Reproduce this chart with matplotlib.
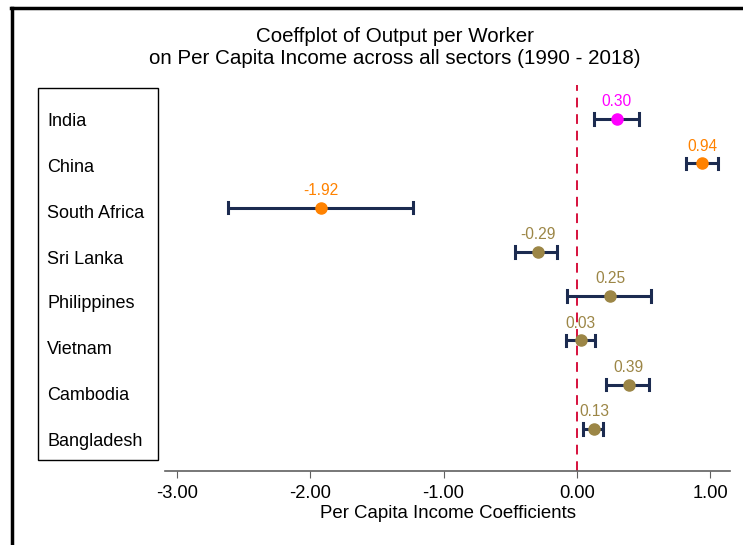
import matplotlib
matplotlib.use("Agg")
import matplotlib.pyplot as plt
from matplotlib.lines import Line2D
from matplotlib.patches import Rectangle

plt.rcParams["font.family"] = ["Liberation Sans", "DejaVu Sans"]

# ── data ──────────────────────────────────────────────────────────────────────
countries = ["India", "China", "South Africa", "Sri Lanka",
             "Philippines", "Vietnam", "Cambodia", "Bangladesh"]
coef  = [0.30, 0.94, -1.92, -0.29, 0.25, 0.03, 0.39, 0.13]
ci_lo = [0.13, 0.82, -2.62, -0.46, -0.07, -0.08, 0.22, 0.05]
ci_hi = [0.47, 1.06, -1.23, -0.15, 0.56, 0.14, 0.54, 0.20]
labels = ["0.30", "0.94", "-1.92", "-0.29", "0.25", "0.03", "0.39", "0.13"]
xticks = [-3, -2, -1, 0, 1]

# ── colours ───────────────────────────────────────────────────────────────────
C_MAG  = "#FF00FF"
C_ORG  = "#FF8200"
C_SAND = "#9C8646"
C_BAR  = "#1C2B50"
C_ZERO = "#D6103C"
point_colors = [C_MAG, C_ORG, C_ORG, C_SAND, C_SAND, C_SAND, C_SAND, C_SAND]

fig = plt.figure(figsize=(7.43, 5.45), dpi=100)
W, H = 743, 545

# plot area in pixel coords: x 165..730, y 85..471
ax = fig.add_axes([165 / W, 1 - 471 / H, (730 - 165) / W, (471 - 85) / H])
ax.set_xlim(-3.09, 1.15)
n = len(countries)
ax.set_ylim(n - 1 + 0.948, -0.768)

ys = list(range(n))
for y, c, lo, hi, col, lab in zip(ys, coef, ci_lo, ci_hi, point_colors, labels):
    ax.plot([lo, hi], [y, y], color=C_BAR, lw=2.2, zorder=2, solid_capstyle="butt")
    ax.plot([lo, lo], [y - 0.13, y + 0.13], color=C_BAR, lw=2.2, zorder=2)
    ax.plot([hi, hi], [y - 0.13, y + 0.13], color=C_BAR, lw=2.2, zorder=2)
    ax.plot(c, y, "o", ms=8, color=col, zorder=3)
    ax.text(c, y - 0.22, lab, color=col, ha="center", va="bottom", fontsize=11.2)

ax.axvline(0, color=C_ZERO, lw=1.4, ls=(0, (5, 3.5)), zorder=1)

for s in ["top", "right", "left"]:
    ax.spines[s].set_visible(False)
ax.spines["bottom"].set_color("#606060")
ax.spines["bottom"].set_linewidth(1.2)
ax.set_yticks([])
ax.set_xticks(xticks)
ax.set_xticklabels([f"{t:.2f}" for t in xticks], fontsize=13.2)
ax.tick_params(axis="x", length=5, color="#606060", pad=5)
ax.set_xlabel("Per Capita Income Coefficients", fontsize=13.4, labelpad=2)

# title
fig.text(395 / W, 1 - 37 / H, "Coeffplot of Output per Worker",
         ha="center", va="center", fontsize=14.8)
fig.text(395 / W, 1 - 58 / H, "on Per Capita Income across all sectors (1990 - 2018)",
         ha="center", va="center", fontsize=14.8)

# legend-like box with country names
fig.patches.append(Rectangle((38 / W, 1 - 460 / H), 120 / W, 372 / H,
                             transform=fig.transFigure, fill=False,
                             edgecolor="black", lw=1.0))
box_y = [122, 168, 213, 259, 304, 350, 396, 441]
for name, py in zip(countries, box_y):
    fig.text(47 / W, 1 - py / H, name, ha="left", va="center", fontsize=13)

# outer frame (left and top edges)
fig.add_artist(Line2D([11.5 / W, 11.5 / W], [0, 1 - 8 / H], color="black",
                      lw=2.5, transform=fig.transFigure))
fig.add_artist(Line2D([10.5 / W, 1], [1 - 8 / H, 1 - 8 / H], color="black",
                      lw=2.5, transform=fig.transFigure))

fig.savefig("out.png", dpi=100)
